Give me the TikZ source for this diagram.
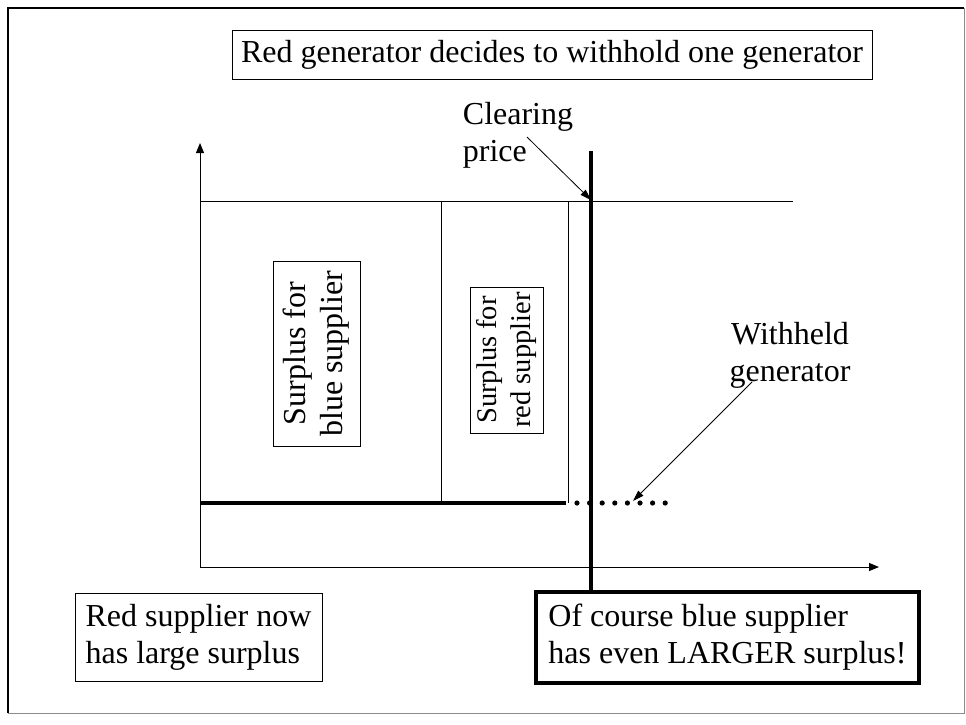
\documentclass[tikz,border=0pt]{standalone}
\usepackage{fontspec}
\setmainfont{Liberation Serif}
\usetikzlibrary{arrows.meta}

\begin{document}
\begin{tikzpicture}[x=1pt,y=-1pt,
  txt/.style={font=\fontsize{32}{37}\selectfont, inner sep=0pt},
  smalltxt/.style={font=\fontsize{28.5}{34}\selectfont, inner sep=0pt},
  boxed/.style={draw, line width=0.9pt, inner sep=0pt},
  axis/.style={line width=1pt, -{Triangle[length=10pt,width=8pt]}},
  pointer/.style={line width=0.8pt, -{Triangle[length=11pt,width=7pt]}},
  thin line/.style={line width=1pt}
]
\useasboundingbox (0,0) rectangle (966,724);

% slide frame
\draw[line width=2pt] (8,713) -- (8,8) -- (964,8);
\draw[line width=1pt, black!45] (964,8) -- (964,713) -- (8,713);

% heading
\node[txt, boxed, minimum width=640pt, minimum height=49pt] (title) at (552,54.5)
  {Red generator decides to withhold one generator};

% axes
\coordinate (O) at (200,567);
\coordinate (ytop) at (200,143);
\coordinate (xend) at (879,567);
\draw[axis] (O) -- (ytop);
\draw[axis] (O) -- (xend);

% price level and supply blocks
\coordinate (pL) at (200,201);
\coordinate (pR) at (793,201);
\draw[thin line] (pL) -- (pR);
\coordinate (b1t) at (441,201); \coordinate (b1b) at (441,503);
\coordinate (b2t) at (568,201); \coordinate (b2b) at (568,503);
\draw[thin line] (b1t) -- (b1b);
\draw[thin line] (b2t) -- (b2b);

% offered supply (thick) and withheld unit (dots)
\coordinate (sL) at (200,503);
\coordinate (sR) at (566,503);
\draw[line width=4.5pt] (sL) -- (sR);
\foreach \i in {0,...,7}
  \fill (577+12.6*\i,503) circle (2.6pt);

% demand line
\coordinate (dT) at (591,151);
\draw[line width=3.5pt] (dT) -- (591,592);

% surplus labels
\node[txt, boxed, rotate=90, align=center, minimum width=185pt, minimum height=87pt] (blue) at (316.5,353.5)
  {Surplus for\\blue supplier};
\node[smalltxt, boxed, rotate=90, align=center, minimum width=146pt, minimum height=73pt] (red) at (506.5,360)
  {Surplus for\\red supplier};

% clearing price annotation
\node[txt, align=left] (clear) at (518,135) {Clearing\\price};
\coordinate (cp) at (591,200);
\draw[pointer] (527,137) -- (cp);

% withheld generator annotation
\node[txt, align=center] (wg) at (790,355) {Withheld\\generator};
\coordinate (wd) at (633,501);
\draw[pointer] (752,382) -- (wd);

% bottom notes
\node[txt, boxed, align=left, minimum width=247pt, minimum height=88pt] (rnote) at (198.5,637)
  {Red supplier now\\has large surplus};
\node[txt, draw, line width=3.5pt, align=left, minimum width=383pt, minimum height=91pt] (bnote) at (727.5,637.5)
  {Of course blue supplier\\has even LARGER surplus!};
\end{tikzpicture}
\end{document}
